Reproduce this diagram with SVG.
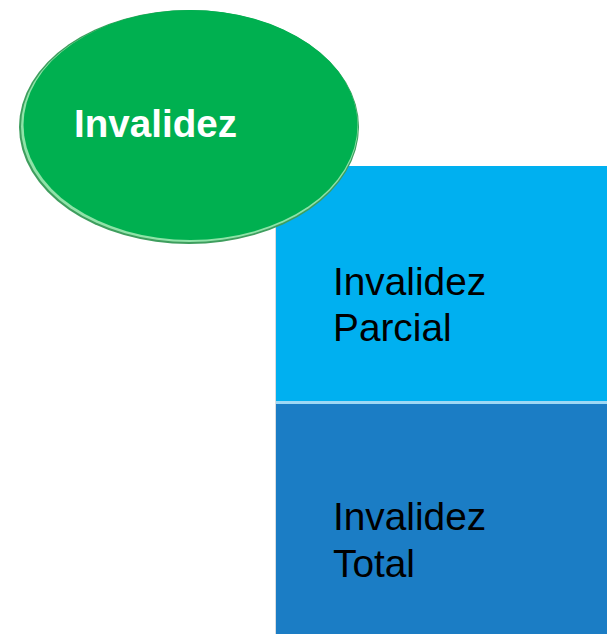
<svg xmlns="http://www.w3.org/2000/svg" width="607" height="634" viewBox="0 0 607 634">
  <style>
    .lbl { font-family: "Liberation Sans", Arial, sans-serif; font-size: 38.8px; fill: #000; }
    .title { font-family: "Liberation Sans", Arial, sans-serif; font-size: 38.6px; font-weight: bold; fill: #fff; }
  </style>
  <rect x="0" y="0" width="607" height="634" fill="#fff"/>
  <g id="parcial">
    <rect x="276" y="166" width="331" height="235" fill="#00B0F0"/>
    <text class="lbl" x="333" y="295">Invalidez</text>
    <text class="lbl" x="333" y="341">Parcial</text>
  </g>
  <g id="total">
    <rect x="276" y="404" width="331" height="230" fill="#1B7DC5"/>
    <text class="lbl" x="333" y="530">Invalidez</text>
    <text class="lbl" x="333" y="577">Total</text>
  </g>
  <g id="connectors">
    <line x1="276" y1="402.5" x2="607" y2="402.5" stroke="#9ED8F5" stroke-width="3"/>
    <line x1="275.5" y1="166" x2="275.5" y2="634" stroke="#D8DCE0" stroke-width="1"/>
  </g>
  <g id="invalidez">
    <ellipse cx="189" cy="127" rx="170" ry="117" fill="#3E9E5E"/>
    <ellipse cx="189.5" cy="126.5" rx="168.5" ry="115.5" fill="#8FE3A8"/>
    <ellipse cx="190.5" cy="125" rx="167" ry="115" fill="#00B050"/>
    <text class="title" x="74" y="137">Invalidez</text>
  </g>
</svg>
